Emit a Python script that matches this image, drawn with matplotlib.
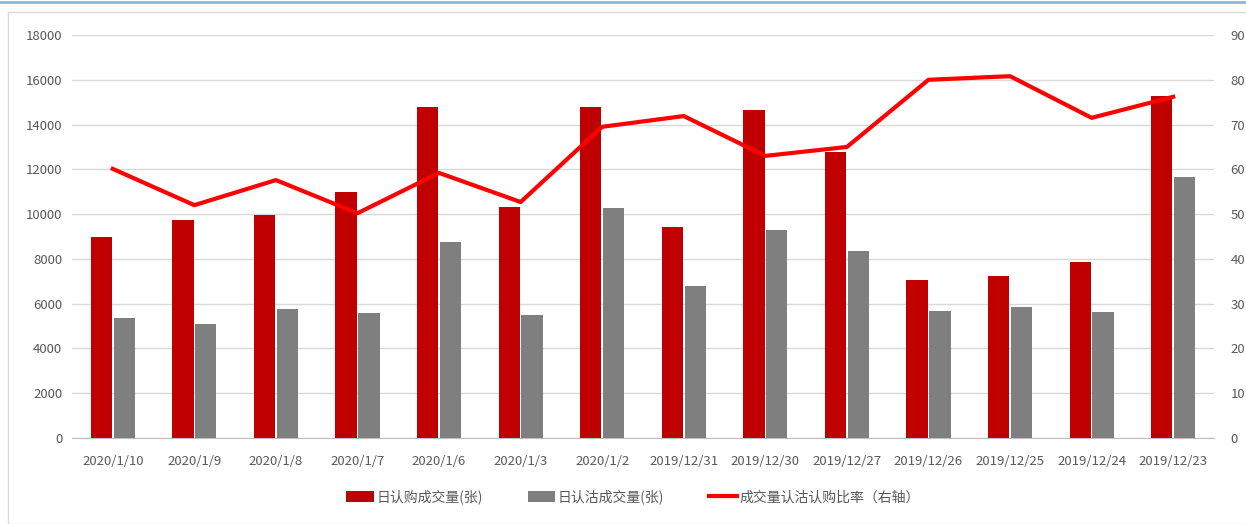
import matplotlib.pyplot as plt
import numpy as np
from matplotlib.patches import Rectangle
from matplotlib.lines import Line2D

plt.rcParams['font.family'] = ['Noto Sans CJK SC', 'DejaVu Sans']

dates = ["2020/1/10", "2020/1/9", "2020/1/8", "2020/1/7", "2020/1/6", "2020/1/3",
         "2020/1/2", "2019/12/31", "2019/12/30", "2019/12/27", "2019/12/26",
         "2019/12/25", "2019/12/24", "2019/12/23"]
call_vol = [8980, 9740, 9960, 10990, 14790, 10320, 14790, 9430, 14650, 12770,
            7060, 7240, 7860, 15280]
put_vol = [5360, 5090, 5760, 5580, 8750, 5490, 10270, 6790, 9290, 8350,
           5670, 5850, 5630, 11660]
ratio = [60.1, 52.0, 57.6, 50.2, 59.2, 52.7, 69.5, 71.9, 63.0, 65.0,
         80.0, 80.8, 71.5, 76.2]

red = "#C00000"
gray = "#7F7F7F"
line_red = "#FF0000"
txt = "#595959"

fig = plt.figure(figsize=(12.46, 5.24), dpi=100)

# chart frame and top blue rule
fig.patches.append(Rectangle((8 / 1246, 0), 1, 1 - 12 / 524, transform=fig.transFigure,
                             fill=False, edgecolor="#D9D9D9", linewidth=1))
fig.add_artist(Line2D([0, 1], [1 - 1.5 / 524, 1 - 1.5 / 524], transform=fig.transFigure,
                      color="#8EB4E3", linewidth=2))

ax = fig.add_axes([72 / 1246, 1 - 438 / 524, (1214 - 72) / 1246, 403 / 524])
x = np.arange(len(dates))
w = 0.26
ax.bar(x - 0.14, call_vol, width=w, color=red, label="日认购成交量(张)", zorder=3)
ax.bar(x + 0.14, put_vol, width=w, color=gray, label="日认沽成交量(张)", zorder=3)
ax.set_xlim(-0.5, len(dates) - 0.5)
ax.set_ylim(0, 18000)
ax.set_yticks(np.arange(0, 18001, 2000))
ax.set_xticks(x)
ax.set_xticklabels(dates)
ax.grid(axis="y", color="#D9D9D9", linewidth=1, zorder=0)
for s in ["top", "left", "right"]:
    ax.spines[s].set_visible(False)
ax.spines["bottom"].set_color("#BFBFBF")
ax.tick_params(axis="y", length=0, pad=7, labelsize=9.5, labelcolor=txt)
ax.tick_params(axis="x", length=0, pad=12, labelsize=9.5, labelcolor=txt)

ax2 = ax.twinx()
ax2.plot(x, ratio, color=line_red, linewidth=3, label="成交量认沽认购比率（右轴）", zorder=4)
ax2.set_ylim(0, 90)
ax2.set_yticks(np.arange(0, 91, 10))
for s in ["top", "left", "right", "bottom"]:
    ax2.spines[s].set_visible(False)
ax2.tick_params(axis="y", length=0, pad=12, labelsize=9.5, labelcolor=txt)

h1, l1 = ax.get_legend_handles_labels()
h2, l2 = ax2.get_legend_handles_labels()
fig.legend(h1 + h2, l1 + l2, loc="center", bbox_to_anchor=(0.508, 1 - 497 / 524),
           ncol=3, frameon=False, fontsize=10, labelcolor=txt,
           handlelength=2.0, handleheight=0.9, columnspacing=3.2, handletextpad=0.2)

fig.savefig("out.png", dpi=100)
